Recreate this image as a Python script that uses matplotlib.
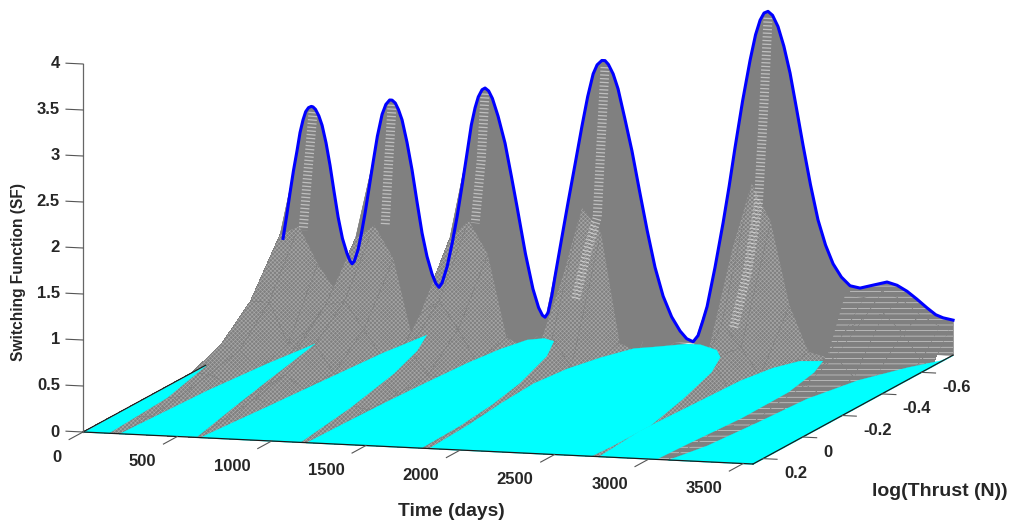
import numpy as np
import matplotlib
matplotlib.use('Agg')
import matplotlib.pyplot as plt
from mpl_toolkits.mplot3d import proj3d
from mpl_toolkits.mplot3d.art3d import Poly3DCollection

plt.rcParams['font.family'] = ['Liberation Sans', 'DejaVu Sans']
plt.rcParams['hatch.linewidth'] = 0.45

# Back edge of the surface (thrust = -0.76), blue line
thrust_back = -0.76
time_back = [0, 20, 37, 55, 74, 90, 106, 120, 135, 150, 159, 172, 190, 207, 228, 249, 270, 292, 315, 339, 355, 366,
             378, 398, 415, 435, 455, 477, 500, 525, 545, 565, 578, 595, 612, 631, 657, 684, 710, 737, 763, 790,
             810, 827, 843, 870, 897, 923, 950, 976, 998, 1018, 1035, 1055, 1071, 1090, 1110, 1140, 1177, 1210,
             1241, 1285, 1325, 1355, 1375, 1389, 1405, 1425, 1442, 1475, 1511, 1550, 1585, 1615, 1644, 1665, 1690,
             1707, 1725, 1750, 1776, 1812, 1850, 1890, 1930, 1972, 2015, 2060, 2105, 2140, 2174, 2200, 2225, 2248,
             2290, 2333, 2365, 2396, 2436, 2476, 2505, 2529, 2550, 2571, 2595, 2624, 2655, 2688, 2722, 2757, 2796,
             2836, 2876, 2916, 2960, 3006, 3059, 3130, 3202, 3255, 3308, 3360, 3414, 3460, 3499, 3552]
sf_back = [0.92, 1.18, 1.42, 1.66, 1.88, 2.08, 2.22, 2.31, 2.355, 2.37, 2.365, 2.34, 2.27, 2.17, 1.98, 1.74, 1.46,
           1.18, 0.95, 0.79, 0.71, 0.68, 0.71, 0.84, 1.01, 1.24, 1.50, 1.79, 2.08, 2.32, 2.43, 2.48, 2.48, 2.45,
           2.38, 2.27, 2.03, 1.73, 1.39, 1.05, 0.80, 0.61, 0.51, 0.47, 0.52, 0.70, 0.96, 1.25, 1.60, 1.95, 2.25,
           2.44, 2.56, 2.64, 2.66, 2.63, 2.55, 2.36, 2.07, 1.72, 1.38, 0.88, 0.50, 0.30, 0.22, 0.20, 0.25, 0.44,
           0.65, 1.04, 1.46, 1.90, 2.30, 2.62, 2.87, 2.97, 3.02, 3.02, 2.98, 2.88, 2.72, 2.40, 2.05, 1.62, 1.20,
           0.80, 0.49, 0.27, 0.12, 0.04, 0.01, 0.08, 0.24, 0.40, 0.83, 1.32, 1.72, 2.14, 2.65, 3.10, 3.38, 3.54,
           3.62, 3.64, 3.60, 3.48, 3.27, 2.98, 2.60, 2.20, 1.78, 1.40, 1.13, 0.93, 0.79, 0.70, 0.68, 0.72, 0.76,
           0.73, 0.67, 0.59, 0.50, 0.43, 0.40, 0.38]

# Surface table, one row per thrust level (front to back)
time_grid = [0, 100, 200, 300, 400, 500, 600, 700, 800, 900, 1000, 1100, 1200, 1300, 1400, 1500, 1600, 1700,
             1800, 1900, 2000, 2100, 2200, 2300, 2400, 2500, 2600, 2700, 2800, 2900, 3000, 3100, 3200, 3300,
             3400, 3500, 3552]
thrust_grid = [0.25, 0.10, -0.05, -0.20, -0.35, -0.50, -0.65, -0.74]
sf_r0 = [0] * 37
sf_r1 = [0, 0, .01, 0, 0, 0, .02, 0, 0, 0, 0, 0, 0, 0, 0, 0, 0, 0, 0, 0, 0, 0, 0, 0, 0, 0, 0, .01, 0, 0, 0, .01, 0, 0, 0, 0, 0]
sf_r2 = [0, .02, .05, 0, 0, 0, .07, 0, 0, 0, 0, .05, 0, 0, 0, 0, 0, 0, 0, 0, 0, 0, 0, 0, 0, 0, 0, .05, 0, 0, 0, .03, 0, 0, 0, 0, 0]
sf_r3 = [0, .12, .12, 0, 0, .02, .15, 0, 0, 0, 0, .14, 0, 0, 0, 0, 0, 0, 0, 0, 0, 0, 0, 0, 0, 0, 0, .15, 0, 0, 0, .05, .08, 0, 0, 0, 0]
sf_r4 = [0, .25, .20, 0, 0, .22, .30, 0, 0, 0, .02, .30, .03, 0, 0, 0, 0, .10, 0, 0, 0, 0, 0, 0, 0, 0, 0, .35, 0, 0, 0, .08, .12, 0, 0, 0, 0]
sf_r5 = [.14, .55, .55, .10, .25, .55, .60, .30, 0, 0, .50, .65, .35, 0, 0, 0, .02, .30, 0, 0, 0, 0, 0, 0, 0, 0, .55, .30, 0, 0, 0, .10, .25, .03, 0, 0, 0]
sf_r6 = [.35, 1.10, 1.20, .80, .50, 1.10, 1.25, .90, .05, .50, 1.15, 1.35, 1.00, .10, 0, .05, .80, 1.55, 1.30, .10, 0, 0, 0, 0, .05, 1.20, 1.90, 1.50, .60, .10, .05, .35, .50, .55, .35, .05, 0]
sf_r7 = [.70, 1.90, 2.00, .85, .60, 1.85, 2.15, 1.30, .40, .80, 2.00, 2.30, 1.65, .45, .08, 1.10, 2.20, 2.70, 2.30, 1.30, .40, .02, 0, .65, 1.95, 2.95, 3.25, 2.55, 1.55, .85, .62, .60, .68, .60, .44, .33, .30]

# Bright bands under the peaks: time, thrust, SF
band_time = [[159, 159, 180], [578, 589, 615], [1071, 1082, 1092], [1707, 1718, 1739, 1729, 1718], [2571, 2582, 2593, 2577, 2556]]
band_thrust = [[-.76, -.73, -.69], [-.76, -.73, -.69], [-.76, -.73, -.69], [-.76, -.73, -.69, -.65, -.60], [-.76, -.73, -.69, -.65, -.60]]
band_sf = [[2.31, 1.60, 1.11], [2.43, 1.755, 1.21], [2.60, 1.91, 1.275], [2.95, 2.19, 1.40, 1.09, .605], [3.57, 2.71, 1.62, .935, .38]]

# Cyan regions on the floor (SF = 0), outline as time / thrust pairs
tongue_time = [
    [0, 131, 97, 0],
    [189, 230, 280, 335, 380, 432, 508, 592],
    [615, 640, 665, 690, 715, 748, 801, 896, 985, 1079, 1147],
    [1180, 1190, 1205, 1225, 1250, 1285, 1334, 1403, 1475, 1574, 1684, 1740, 1775, 1787],
    [1829, 1809, 1774, 1756, 1788, 1851, 1931, 2010, 2149, 2221, 2349, 2431, 2521, 2622, 2702, 2700, 2688],
    [2730, 2698, 2719, 2739, 2783, 2852, 2964, 3023, 3075, 3079, 3049, 3033],
    [3097, 3159, 3197, 3226, 3309, 3437, 3535, 3552, 3552],
]
tongue_thrust = [
    [0.25, 0.25, -0.08, -0.37],
    [0.25, -0.16, -0.41, -0.60, -0.45, -0.27, -0.02, 0.24],
    [0.25, 0.10, -0.04, -0.20, -0.35, -0.55, -0.72, -0.58, -0.38, -0.07, 0.25],
    [0.25, 0.05, -0.15, -0.32, -0.50, -0.63, -0.72, -0.74, -0.72, -0.59, -0.35, -0.16, 0.04, 0.25],
    [0.25, 0.03, -0.17, -0.35, -0.49, -0.60, -0.69, -0.71, -0.75, -0.75, -0.71, -0.65, -0.52, -0.28, -0.04, 0.15, 0.25],
    [0.25, 0.01, -0.23, -0.46, -0.58, -0.65, -0.66, -0.56, -0.38, -0.14, 0.09, 0.25],
    [0.25, 0.11, -0.11, -0.33, -0.51, -0.64, -0.71, -0.76, 0.25],
]

time_ticks = [0, 500, 1000, 1500, 2000, 2500, 3000, 3500]
thrust_ticks = [0.2, 0, -0.2, -0.4, -0.6]
sf_ticks = [0, 0.5, 1, 1.5, 2, 2.5, 3, 3.5, 4]
time_labels = ['0', '500', '1000', '1500', '2000', '2500', '3000', '3500']
thrust_labels = ['0.2', '0', '-0.2', '-0.4', '-0.6']
sf_labels = ['0', '0.5', '1', '1.5', '2', '2.5', '3', '3.5', '4']

TMAX = 3552
TH_FRONT = 0.25
W, H = 1013, 527
TXT = '#262626'
GRAY = '#808080'
LIGHT = '#a8a8a8'
STRIPE = '#d6d6d6'

fig = plt.figure(figsize=(W / 100, H / 100), dpi=100)
ax = fig.add_axes([0, 0, 1, 1], projection='3d', proj_type='ortho', computed_zorder=False)
ax.set_xlim(0, TMAX, view_margin=0)
ax.set_ylim(TH_FRONT, thrust_back, view_margin=0)
ax.set_zlim(0, 4, view_margin=0)
ax.view_init(elev=9.28, azim=-73.5)
ax.set_box_aspect((698.8, 704.4, 372.9))
ax.set_axis_off()
ax.patch.set_alpha(0)


def to_px(t, th, z):
    x, y, _ = proj3d.proj_transform(t, th, z, ax.get_proj())
    X, Y = ax.transData.transform((x, y))
    return X, H - Y


# fit the box to the figure: time axis runs (83,432) -> (753,464)
side = 1000.0
cx, cy = W / 2, H / 2
for i in range(4):
    ax.set_position([(cx - side / 2) / W, (H - cy - side / 2) / H, side / W, side / H])
    fig.canvas.draw()
    x0, y0 = to_px(0, TH_FRONT, 0)
    x1, y1 = to_px(TMAX, TH_FRONT, 0)
    side *= 670 / (x1 - x0)
    cx += 83 - x0
    cy += 432 - y0
ax.set_position([(cx - side / 2) / W, (H - cy - side / 2) / H, side / W, side / H])
fig.canvas.draw()

# wall under the back curve
wall = [(t, thrust_back, s) for t, s in zip(time_back, sf_back)] + [(TMAX, thrust_back, 0), (0, thrust_back, 0)]
ax.add_collection3d(Poly3DCollection([wall], facecolor=GRAY, edgecolor=GRAY, linewidth=0.3, zorder=1))
wall_end = [(t, thrust_back, s) for t, s in zip(time_back, sf_back) if t >= 3006]
wall_end += [(TMAX, thrust_back, 0), (3006, thrust_back, 0)]
ax.add_collection3d(Poly3DCollection([wall_end], facecolor=GRAY, edgecolor=STRIPE, linewidth=0, hatch='---', zorder=1))

# surface
T, TH = np.meshgrid(time_grid, thrust_grid)
Z = np.array([sf_r0, sf_r1, sf_r2, sf_r3, sf_r4, sf_r5, sf_r6, sf_r7], dtype=float)
ax.plot_surface(T[6:, :31], TH[6:, :31], Z[6:, :31], rstride=1, cstride=1, color=GRAY, edgecolor=GRAY, linewidth=0.3,
                shade=False, zorder=2)
ax.plot_surface(T[:7, :31], TH[:7, :31], Z[:7, :31], rstride=1, cstride=1, color=GRAY, edgecolor=LIGHT, linewidth=0,
                hatch='xxxxxxxx', shade=False, antialiased=False, zorder=2)
ax.plot_surface(T[:, 30:], TH[:, 30:], Z[:, 30:], rstride=1, cstride=1, color=GRAY, edgecolor=STRIPE, linewidth=0,
                hatch='---', shade=False, antialiased=False, zorder=2)

# bright stacked arcs under the peaks
for tt, hh, ss in zip(band_time, band_thrust, band_sf):
    ax.plot(tt, hh, ss, color='white', alpha=0.5, lw=6.5, linestyle=(0, (0.14, 0.27)), dash_capstyle='butt', zorder=2.5)

# cyan floor regions
for tt, hh in zip(tongue_time, tongue_thrust):
    verts = [(a, b, 0) for a, b in zip(tt, hh)]
    ax.add_collection3d(Poly3DCollection([verts], facecolor='#00ffff', edgecolor='#00ffff', linewidth=0.2, zorder=3))

# blue curve
ax.plot(time_back, [thrust_back] * len(time_back), sf_back, color='#0000ff', lw=2.2, zorder=5)

# axis lines
ax.plot([0, TMAX], [TH_FRONT, TH_FRONT], [0, 0], color='#1a1a1a', lw=0.9, zorder=6)
ax.plot([TMAX, TMAX], [TH_FRONT, thrust_back], [0, 0], color='#1a1a1a', lw=0.9, zorder=6)
ax.plot([0, 0], [TH_FRONT, -0.37], [0, 0], color='#1a1a1a', lw=0.8, zorder=6)
ax.plot([0, 0], [TH_FRONT, TH_FRONT], [0, 4], color='#666666', lw=0.9, zorder=6)

# ticks and labels
for v, s in zip(time_ticks, time_labels):
    ax.plot([v, v], [TH_FRONT, TH_FRONT + 0.07], [0, 0], color='#555555', lw=0.8, zorder=6)
    x, y = to_px(v, TH_FRONT, 0)
    fig.text((x - 21) / W, 1 - (y + 25) / H, s, ha='right', va='center', fontsize=12, fontweight='bold', color=TXT)
for v, s in zip(thrust_ticks, thrust_labels):
    ax.plot([TMAX, TMAX + 75], [v, v], [0, 0], color='#555555', lw=0.8, zorder=6)
    x, y = to_px(TMAX, v, 0)
    fig.text((x + 21) / W, 1 - (y + 15) / H, s, ha='left', va='center', fontsize=12, fontweight='bold', color=TXT)
for v, s in zip(sf_ticks, sf_labels):
    ax.plot([0, -90], [TH_FRONT, TH_FRONT], [v, v], color='#555555', lw=0.8, zorder=6)
    x, y = to_px(0, TH_FRONT, v)
    fig.text((x - 23) / W, 1 - y / H, s, ha='right', va='center', fontsize=12, fontweight='bold', color=TXT)

fig.text(451 / W, 1 - 511 / H, 'Time (days)', ha='center', va='center', fontsize=13.9, fontweight='bold', color=TXT)
fig.text(940 / W, 1 - 492 / H, 'log(Thrust (N))', ha='center', va='center', fontsize=14, fontweight='bold', color=TXT)
fig.text(19 / W, 1 - 272 / H, 'Switching Function (SF)', rotation=90, ha='center', va='center', fontsize=11.2,
         fontweight='bold', color=TXT)

fig.savefig('out.png', dpi=100)
